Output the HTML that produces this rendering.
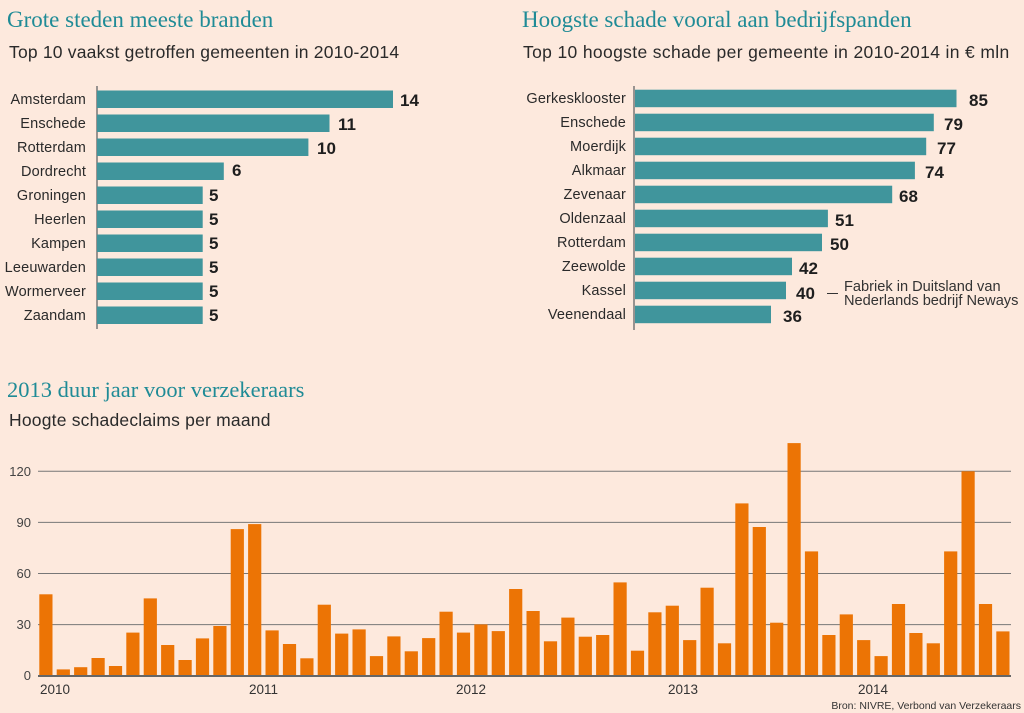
<!DOCTYPE html>
<html><head><meta charset="utf-8"><style>
html,body{margin:0;padding:0;background:#fde9dd}
svg{display:block}
.t{font-family:"Liberation Serif",serif;font-size:23px;fill:#1f8b96}
.s{font-family:"Liberation Sans",sans-serif;font-size:17.5px;fill:#2a2a2a;letter-spacing:0.2px}
.l{font-family:"Liberation Sans",sans-serif;font-size:14.5px;fill:#2a2a2a;text-anchor:end;letter-spacing:0.15px}
.v{font-family:"Liberation Sans",sans-serif;font-size:17px;font-weight:bold;fill:#1e1e1e}
.a{font-family:"Liberation Sans",sans-serif;font-size:13px;fill:#444;text-anchor:end}
.y{font-family:"Liberation Sans",sans-serif;font-size:13.5px;fill:#333}
</style></head><body>
<svg width="1024" height="713" xmlns="http://www.w3.org/2000/svg">
<rect width="1024" height="713" fill="#fde9dd"/>
<text class="t" x="7" y="27">Grote steden meeste branden</text>
<text class="s" x="9" y="58">Top 10 vaakst getroffen gemeenten in 2010-2014</text>
<text class="t" x="522" y="27">Hoogste schade vooral aan bedrijfspanden</text>
<text class="s" x="523" y="58" style="letter-spacing:0.35px">Top 10 hoogste schade per gemeente in 2010-2014 in € mln</text>
<line x1="97" y1="86" x2="97" y2="329" stroke="#777" stroke-width="1.5"/>
<g fill="#40959c">
<rect x="97" y="90.5" width="296" height="17.5"/>
<rect x="97" y="114.5" width="232.5" height="17.5"/>
<rect x="97" y="138.5" width="211.4" height="17.5"/>
<rect x="97" y="162.5" width="126.8" height="17.5"/>
<rect x="97" y="186.5" width="105.7" height="17.5"/>
<rect x="97" y="210.5" width="105.7" height="17.5"/>
<rect x="97" y="234.5" width="105.7" height="17.5"/>
<rect x="97" y="258.5" width="105.7" height="17.5"/>
<rect x="97" y="282.5" width="105.7" height="17.5"/>
<rect x="97" y="306.5" width="105.7" height="17.5"/>
</g>
<g class="l">
<text x="86" y="104">Amsterdam</text><text x="86" y="128">Enschede</text><text x="86" y="152">Rotterdam</text><text x="86" y="176">Dordrecht</text><text x="86" y="200">Groningen</text><text x="86" y="224">Heerlen</text><text x="86" y="248">Kampen</text><text x="86" y="272">Leeuwarden</text><text x="86" y="296">Wormerveer</text><text x="86" y="320">Zaandam</text>
</g>
<g class="v">
<text x="400" y="106">14</text><text x="338" y="130">11</text><text x="317" y="154">10</text><text x="232" y="176">6</text><text x="209" y="201">5</text><text x="209" y="225">5</text><text x="209" y="249">5</text><text x="209" y="273">5</text><text x="209" y="297">5</text><text x="209" y="321">5</text>
</g>
<line x1="634" y1="86" x2="634" y2="330" stroke="#777" stroke-width="1.5"/>
<g fill="#40959c">
<rect x="635" y="89.7" width="321.5" height="17.5"/>
<rect x="635" y="113.7" width="298.8" height="17.5"/>
<rect x="635" y="137.7" width="291.2" height="17.5"/>
<rect x="635" y="161.7" width="279.9" height="17.5"/>
<rect x="635" y="185.7" width="257.2" height="17.5"/>
<rect x="635" y="209.7" width="192.9" height="17.5"/>
<rect x="635" y="233.7" width="187" height="17.5"/>
<rect x="635" y="257.7" width="157" height="17.5"/>
<rect x="635" y="281.7" width="151" height="17.5"/>
<rect x="635" y="305.7" width="136" height="17.5"/>
</g>
<g class="l">
<text x="626" y="103">Gerkesklooster</text><text x="626" y="127">Enschede</text><text x="626" y="151">Moerdijk</text><text x="626" y="175">Alkmaar</text><text x="626" y="199">Zevenaar</text><text x="626" y="223">Oldenzaal</text><text x="626" y="247">Rotterdam</text><text x="626" y="271">Zeewolde</text><text x="626" y="295">Kassel</text><text x="626" y="319">Veenendaal</text>
</g>
<g class="v">
<text x="969" y="106">85</text><text x="944" y="130">79</text><text x="937" y="154">77</text><text x="925" y="178">74</text><text x="899" y="202">68</text><text x="835" y="226">51</text><text x="830" y="250">50</text><text x="799" y="274">42</text><text x="796" y="299">40</text><text x="783" y="322">36</text>
</g>
<line x1="827" y1="293.5" x2="838" y2="293.5" stroke="#333" stroke-width="1"/>
<text class="y" x="844" y="291" style="font-size:14.6px">Fabriek in Duitsland van</text>
<text class="y" x="844" y="305" style="font-size:14.6px">Nederlands bedrijf Neways</text>
<text class="t" x="7" y="397" style="font-size:22.5px">2013 duur jaar voor verzekeraars</text>
<text class="s" x="9" y="426">Hoogte schadeclaims per maand</text>
<g stroke="#777" stroke-width="1">
<line x1="38" y1="471.3" x2="1011" y2="471.3"/>
<line x1="38" y1="522.4" x2="1011" y2="522.4"/>
<line x1="38" y1="573.5" x2="1011" y2="573.5"/>
<line x1="38" y1="624.6" x2="1011" y2="624.6"/>
</g>
<g class="a">
<text x="31" y="476">120</text><text x="31" y="527">90</text><text x="31" y="578">60</text><text x="31" y="629">30</text><text x="31" y="680">0</text>
</g>
<g id="bars" fill="#ec7405"></g>
<line x1="38" y1="676" x2="1011" y2="676" stroke="#666" stroke-width="2"/>
<g class="y">
<text x="40" y="694">2010</text><text x="249" y="694">2011</text><text x="456" y="694">2012</text><text x="668" y="694">2013</text><text x="858" y="694">2014</text>
</g>
<text x="1021" y="709" style="font-family:'Liberation Sans',sans-serif;font-size:10.5px;fill:#333;text-anchor:end">Bron: NIVRE, Verbond van Verzekeraars</text>
</svg>
<script>
var v=[47.8,3.7,5,10.4,5.7,25.3,45.4,18,9.2,21.9,29.2,86.1,89,26.6,18.6,10.2,41.7,24.7,27.2,11.5,23.1,14.3,22.1,37.6,25.3,30.1,26.2,50.9,38,20.2,34.1,22.9,23.9,54.8,14.7,37.2,41.1,20.9,51.7,19,101.2,87.3,31.1,136.6,73,23.9,36,20.9,11.5,42.1,25.1,19,73,120,42.1,26];
var g=document.getElementById('bars'),s='';
for(var i=0;i<v.length;i++){var h=v[i]*1.703;s+='<rect x="'+(39.3+i*17.4).toFixed(1)+'" y="'+(675.7-h).toFixed(1)+'" width="13.2" height="'+h.toFixed(1)+'"/>';}
g.innerHTML=s;
</script>
</body></html>
